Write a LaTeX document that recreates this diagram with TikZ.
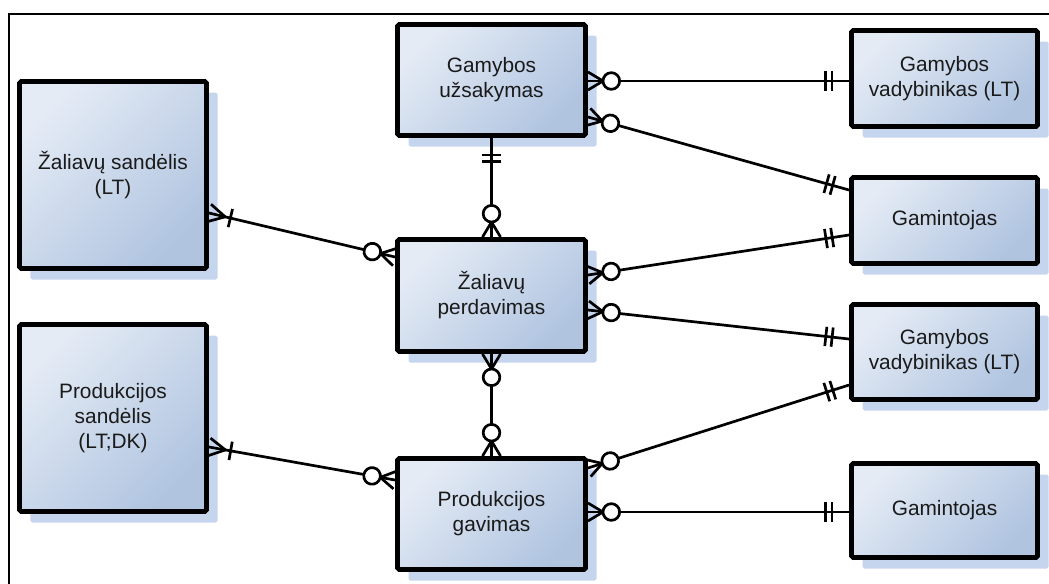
\documentclass[tikz,border=0pt]{standalone}
\usepackage{fontspec}
\setmainfont{Liberation Sans}
\usepackage{tikz}
\usetikzlibrary{calc,shadows,decorations.markings}
\definecolor{ink}{HTML}{000000}
\definecolor{textink}{HTML}{1A1A1A}
\definecolor{boxlight}{HTML}{E4EBF5}
\definecolor{boxdark}{HTML}{B0C4E0}
\definecolor{shadowblue}{HTML}{C6D5EE}
% ER end marks, drawn along the path (x points away from the box)
\newcommand\zmtip{%
  \draw[erline] (.45cm,0) -- (0,.27cm) (.45cm,0) -- (0,-.27cm);
  \draw[erline,fill=white] (.70cm,0) circle[radius=.25cm];}
\newcommand\omtip{%
  \draw[erline] (.5cm,0) -- (0,.27cm) (.5cm,0) -- (0,-.27cm);
  \draw[erline] (.66cm,.28cm) -- (.66cm,-.28cm);}
\newcommand\ootip{%
  \draw[erline] (.51cm,.29cm) -- (.51cm,-.29cm) (.70cm,.29cm) -- (.70cm,-.29cm);}
\tikzset{
  entity/.style={draw=ink,line width=4.2pt,rounded corners=1.5pt,
    top color=boxlight,bottom color=boxdark,shading angle=45,
    align=center,inner sep=0pt,text=textink,font=\fontsize{17.8}{21.4}\selectfont,
    drop shadow={shadow xshift=.33cm,shadow yshift=-.33cm,fill=shadowblue,opacity=1,draw=none}},
  erline/.style={draw=ink,line width=2.3pt},
  zmstart/.style={postaction={decorate,decoration={markings,mark=at position 0 with {\zmtip}}}},
  zmend/.style={postaction={decorate,decoration={markings,mark=at position 0.99999 with {\begin{scope}[xscale=-1]\zmtip\end{scope}}}}},
  omstart/.style={postaction={decorate,decoration={markings,mark=at position 0 with {\omtip}}}},
  ooend/.style={postaction={decorate,decoration={markings,mark=at position 0.99999 with {\begin{scope}[xscale=-1]\ootip\end{scope}}}}},
  frame/.style={draw=ink,line width=1.7pt},
}

\begin{document}
\begin{tikzpicture}[x=0.03cm,y=-0.03cm]
  \useasboundingbox (0,0) rectangle (1049,583);
  \draw[frame] (9,620) -- (9,14) -- (1080,14);

  % left column
  \node[entity,minimum width=5.61cm,minimum height=5.61cm] (zs) at (113,175) {Žaliavų sandėlis\\(LT)};
  \node[entity,minimum width=5.61cm,minimum height=5.61cm] (ps) at (113,418) {Produkcijos\\sandėlis\\(LT;DK)};

  % middle column
  \node[entity,minimum width=5.64cm,minimum height=3.33cm] (gu) at (491.5,80) {Gamybos\\užsakymas};
  \node[entity,minimum width=5.64cm,minimum height=3.36cm] (zp) at (491.5,295.5) {Žaliavų\\perdavimas};
  \node[entity,minimum width=5.64cm,minimum height=3.33cm] (pg) at (491.5,514) {Produkcijos\\gavimas};

  % right column
  \node[entity,minimum width=5.58cm,minimum height=2.88cm] (gv1) at (944.5,78.5) {Gamybos\\vadybinikas (LT)};
  \node[entity,minimum width=5.58cm,minimum height=2.58cm] (g1) at (944.5,220.5) {Gamintojas};
  \node[entity,minimum width=5.58cm,minimum height=2.85cm] (gv2) at (944.5,352) {Gamybos\\vadybinikas (LT)};
  \node[entity,minimum width=5.58cm,minimum height=2.82cm] (g2) at (944.5,510.5) {Gamintojas};

  % relationships
  \draw[erline,zmstart,ooend] ($(gu.east)+(0,1)$) -- ($(gv1.west)+(0,2.5)$);
  \draw[erline,zmstart,ooend] ($(gu.east)+(0,37)$) -- ($(g1.west)+(0,-30.5)$);
  \draw[erline,zmstart,ooend] (zp.north) -- (gu.south);
  \draw[erline,omstart,zmend] ($(zs.east)+(0,38)$) -- ($(zp.west)+(0,-38.5)$);
  \draw[erline,zmstart,ooend] ($(zp.east)+(0,-20.5)$) -- ($(g1.west)+(0,14.5)$);
  \draw[erline,zmstart,ooend] ($(zp.east)+(0,14.5)$) -- ($(gv2.west)+(0,-13)$);
  \draw[erline,zmstart,zmend] (zp.south) -- (pg.north);
  \draw[erline,omstart,zmend] ($(ps.east)+(0,29)$) -- ($(pg.west)+(0,-34)$);
  \draw[erline,zmstart,ooend] ($(pg.east)+(0,-46)$) -- ($(gv2.west)+(0,33)$);
  \draw[erline,zmstart,ooend] ($(pg.east)+(0,-2)$) -- ($(g2.west)+(0,1.5)$);
\end{tikzpicture}
\end{document}
